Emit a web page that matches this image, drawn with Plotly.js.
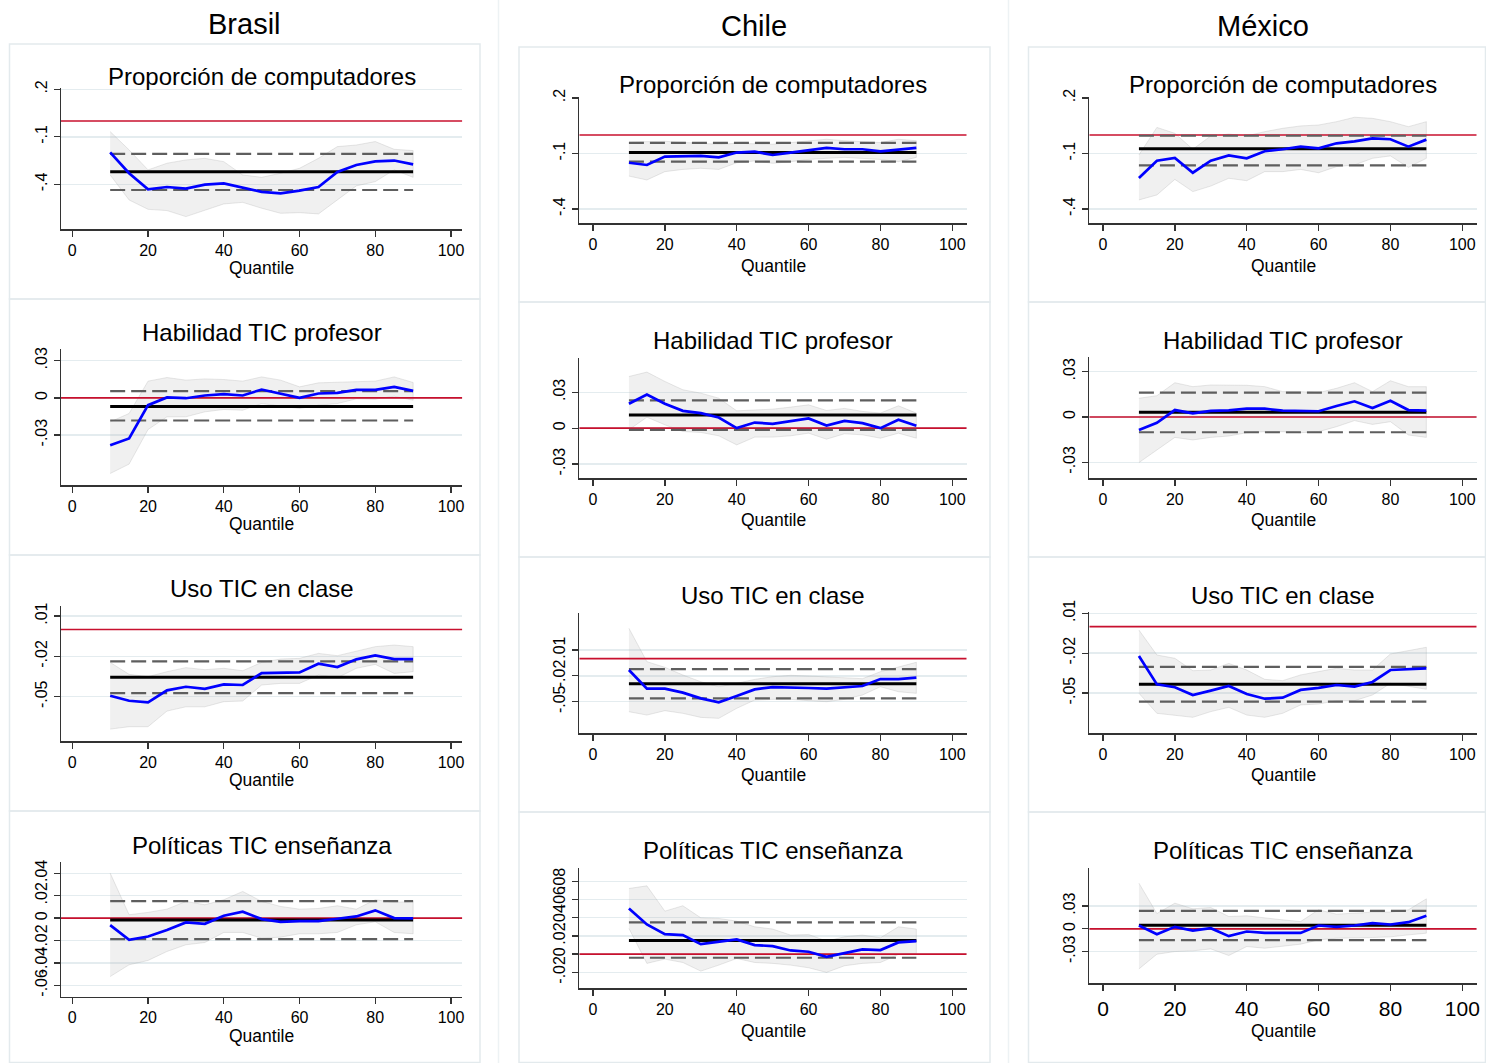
<!DOCTYPE html>
<html><head><meta charset="utf-8">
<script src="https://cdn.plot.ly/plotly-3.0.1.min.js"></script>
<style>html,body{margin:0;padding:0;background:#fff}</style>
</head><body><div id="chart" style="width:1486px;height:1063px"></div>
<script>
// ---------------- DATA ----------------
const quantiles = [10,15,20,25,30,35,40,45,50,55,60,65,70,75,80,85,90];
const countries = ['Brasil','Chile','México'];
const variables = ['Proporción de computadores','Habilidad TIC profesor','Uso TIC en clase','Políticas TIC enseñanza'];
const xTickVals = [0,20,40,60,80,100];
const xAxisLabel = 'Quantile';
const zeroLine = 0;

// y ticks
const prop_ticks = [-0.4,-0.1,0.2];            const prop_labels = ['-.4','-.1','.2'];
const hab_ticks = [-0.03,0,0.03];              const hab_labels = ['-.03','0','.03'];
const uso_ticks = [-0.05,-0.02,0.01];          const uso_labels = ['-.05','-.02','.01'];
const br_pol_ticks = [-0.06,-0.04,-0.02,0,0.02,0.04]; const br_pol_labels = ['-.06','-.04','-.02','0','.02','.04'];
const cl_pol_ticks = [-0.02,0,0.02,0.04,0.06,0.08];   const cl_pol_labels = ['-.02','0','.02','.04','.06','.08'];
const mx_pol_ticks = [-0.03,0,0.03];           const mx_pol_labels = ['-.03','0','.03'];

// OLS arrays: [coefficient, lower CI, upper CI]
// Brasil - Proporción de computadores
const br_prop_qr = [-0.198,-0.330,-0.432,-0.417,-0.427,-0.402,-0.394,-0.419,-0.448,-0.457,-0.440,-0.417,-0.322,-0.278,-0.255,-0.250,-0.274];
const br_prop_hi = [-0.067,-0.183,-0.309,-0.267,-0.246,-0.236,-0.257,-0.341,-0.356,-0.330,-0.299,-0.236,-0.162,-0.152,-0.130,-0.179,-0.187];
const br_prop_lo = [-0.341,-0.499,-0.558,-0.566,-0.604,-0.566,-0.524,-0.514,-0.551,-0.583,-0.579,-0.587,-0.499,-0.410,-0.383,-0.309,-0.356];
const br_prop_ols = [-0.320,-0.436,-0.208];
// Chile - Proporción de computadores
const cl_prop_qr = [-0.150,-0.162,-0.117,-0.115,-0.113,-0.121,-0.095,-0.090,-0.108,-0.095,-0.081,-0.070,-0.077,-0.077,-0.088,-0.081,-0.070];
const cl_prop_hi = [-0.038,-0.036,-0.034,-0.040,-0.045,-0.050,-0.045,-0.048,-0.050,-0.041,-0.032,-0.023,-0.031,-0.036,-0.041,-0.023,-0.031];
const cl_prop_lo = [-0.222,-0.243,-0.198,-0.186,-0.180,-0.186,-0.150,-0.140,-0.153,-0.144,-0.132,-0.126,-0.121,-0.126,-0.132,-0.144,-0.121];
const cl_prop_ols = [-0.095,-0.144,-0.043];
// México - Proporción de computadores
const mx_prop_qr = [-0.232,-0.139,-0.124,-0.204,-0.139,-0.110,-0.126,-0.088,-0.077,-0.063,-0.072,-0.045,-0.034,-0.018,-0.023,-0.063,-0.025];
const mx_prop_hi = [-0.108,0.041,0.009,-0.077,-0.005,0.005,-0.005,0.018,0.036,0.049,0.054,0.072,0.096,0.090,0.072,0.045,0.072];
const mx_prop_lo = [-0.351,-0.324,-0.240,-0.306,-0.276,-0.234,-0.247,-0.198,-0.198,-0.186,-0.204,-0.171,-0.162,-0.126,-0.113,-0.175,-0.126];
const mx_prop_ols = [-0.074,-0.164,-0.004];

// Habilidad TIC profesor
const br_hab_qr = [-0.0382,-0.0328,-0.0059,0.0003,-0.0003,0.0019,0.0030,0.0019,0.0067,0.0035,0.0000,0.0035,0.0040,0.0065,0.0065,0.0089,0.0056];
const br_hab_hi = [-0.0194,-0.0126,0.0135,0.0164,0.0143,0.0153,0.0148,0.0135,0.0169,0.0143,0.0089,0.0121,0.0126,0.0132,0.0135,0.0169,0.0124];
const br_hab_lo = [-0.0611,-0.0535,-0.0256,-0.0153,-0.0153,-0.0113,-0.0094,-0.0100,-0.0046,-0.0067,-0.0086,-0.0059,-0.0046,-0.0008,-0.0011,0.0013,-0.0019];
const br_hab_ols = [-0.0070,-0.0183,0.0054];

const cl_hab_qr = [0.0204,0.0282,0.0204,0.0145,0.0126,0.0089,0.0000,0.0047,0.0036,0.0056,0.0081,0.0022,0.0061,0.0042,0.0000,0.0070,0.0020];
const cl_hab_hi = [0.0432,0.0469,0.0391,0.0321,0.0293,0.0251,0.0145,0.0153,0.0159,0.0176,0.0195,0.0148,0.0165,0.0140,0.0126,0.0187,0.0126];
const cl_hab_lo = [-0.0014,0.0092,0.0028,-0.0028,-0.0036,-0.0064,-0.0140,-0.0075,-0.0075,-0.0064,-0.0042,-0.0092,-0.0047,-0.0056,-0.0084,-0.0042,-0.0084];
const cl_hab_ols = [0.0109,-0.0014,0.0232];

const mx_hab_qr = [-0.0086,-0.0038,0.0046,0.0024,0.0040,0.0044,0.0055,0.0055,0.0042,0.0038,0.0038,0.0073,0.0104,0.0060,0.0108,0.0046,0.0042];
const mx_hab_hi = [0.0124,0.0141,0.0227,0.0201,0.0212,0.0210,0.0210,0.0201,0.0168,0.0168,0.0161,0.0190,0.0227,0.0168,0.0240,0.0201,0.0201];
const mx_hab_lo = [-0.0302,-0.0218,-0.0135,-0.0152,-0.0135,-0.0126,-0.0104,-0.0097,-0.0097,-0.0104,-0.0097,-0.0064,-0.0024,-0.0049,-0.0031,-0.0119,-0.0135];
const mx_hab_ols = [0.0031,-0.0101,0.0161];

// Uso TIC en clase
const br_uso_qr = [-0.0493,-0.0530,-0.0542,-0.0453,-0.0426,-0.0441,-0.0408,-0.0413,-0.0324,-0.0322,-0.0319,-0.0255,-0.0279,-0.0222,-0.0193,-0.0220,-0.0220];
const br_uso_hi = [-0.0245,-0.0334,-0.0351,-0.0314,-0.0284,-0.0299,-0.0289,-0.0307,-0.0245,-0.0220,-0.0215,-0.0178,-0.0195,-0.0160,-0.0128,-0.0116,-0.0128];
const br_uso_lo = [-0.0741,-0.0723,-0.0723,-0.0607,-0.0575,-0.0575,-0.0537,-0.0532,-0.0413,-0.0401,-0.0401,-0.0339,-0.0359,-0.0289,-0.0260,-0.0327,-0.0314];
const br_uso_ols = [-0.0356,-0.0473,-0.0237];

const cl_uso_qr = [-0.0132,-0.0349,-0.0349,-0.0395,-0.0461,-0.0508,-0.0434,-0.0357,-0.0330,-0.0333,-0.0341,-0.0349,-0.0333,-0.0318,-0.0237,-0.0237,-0.0221];
const cl_uso_hi = [0.0352,-0.0035,-0.0101,-0.0190,-0.0268,-0.0326,-0.0287,-0.0241,-0.0210,-0.0194,-0.0202,-0.0210,-0.0217,-0.0233,-0.0152,-0.0101,-0.0043];
const cl_uso_lo = [-0.0616,-0.0655,-0.0604,-0.0635,-0.0682,-0.0693,-0.0577,-0.0481,-0.0473,-0.0473,-0.0488,-0.0500,-0.0473,-0.0422,-0.0326,-0.0384,-0.0403];
const cl_uso_ols = [-0.0291,-0.0461,-0.0121];

const mx_uso_qr = [-0.0221,-0.0435,-0.0457,-0.0515,-0.0482,-0.0447,-0.0507,-0.0543,-0.0535,-0.0477,-0.0462,-0.0440,-0.0452,-0.0417,-0.0327,-0.0319,-0.0314];
const mx_uso_hi = [-0.0026,-0.0214,-0.0239,-0.0332,-0.0327,-0.0277,-0.0327,-0.0397,-0.0407,-0.0364,-0.0339,-0.0314,-0.0327,-0.0327,-0.0206,-0.0181,-0.0156];
const mx_uso_lo = [-0.0502,-0.0653,-0.0666,-0.0683,-0.0640,-0.0608,-0.0666,-0.0683,-0.0653,-0.0590,-0.0583,-0.0558,-0.0558,-0.0515,-0.0427,-0.0447,-0.0472];
const mx_uso_ols = [-0.0435,-0.0565,-0.0304];

// Políticas TIC enseñanza
const br_pol_qr = [-0.0063,-0.0194,-0.0164,-0.0107,-0.0039,-0.0051,0.0021,0.0057,-0.0009,-0.0033,-0.0027,-0.0027,-0.0006,0.0015,0.0069,0.0000,-0.0003];
const br_pol_hi = [0.0402,0.0030,0.0051,0.0080,0.0149,0.0119,0.0164,0.0238,0.0149,0.0104,0.0080,0.0086,0.0110,0.0080,0.0164,0.0140,0.0149];
const br_pol_lo = [-0.0522,-0.0417,-0.0378,-0.0298,-0.0238,-0.0218,-0.0128,-0.0128,-0.0179,-0.0170,-0.0140,-0.0140,-0.0128,-0.0060,-0.0033,-0.0128,-0.0140];
const br_pol_ols = [-0.0018,-0.0188,0.0152];

const cl_pol_qr = [0.0501,0.0326,0.0220,0.0209,0.0110,0.0135,0.0161,0.0099,0.0088,0.0040,0.0026,-0.0029,0.0015,0.0051,0.0044,0.0128,0.0143];
const cl_pol_hi = [0.0721,0.0750,0.0472,0.0531,0.0399,0.0392,0.0362,0.0300,0.0275,0.0209,0.0216,0.0143,0.0190,0.0209,0.0179,0.0300,0.0275];
const cl_pol_lo = [0.0282,-0.0102,-0.0055,-0.0092,-0.0187,-0.0121,-0.0048,-0.0092,-0.0102,-0.0121,-0.0150,-0.0201,-0.0128,-0.0102,-0.0092,-0.0004,0.0007];
const cl_pol_ols = [0.0150,-0.0040,0.0348];

const mx_pol_qr = [0.0044,-0.0070,0.0026,-0.0022,0.0009,-0.0096,-0.0035,-0.0053,-0.0053,-0.0053,0.0044,0.0026,0.0044,0.0074,0.0057,0.0088,0.0171];
const mx_pol_hi = [0.0600,0.0201,0.0337,0.0263,0.0280,0.0162,0.0171,0.0140,0.0118,0.0096,0.0250,0.0193,0.0206,0.0219,0.0219,0.0250,0.0394];
const mx_pol_lo = [-0.0526,-0.0333,-0.0298,-0.0289,-0.0263,-0.0350,-0.0232,-0.0254,-0.0228,-0.0201,-0.0145,-0.0123,-0.0123,-0.0114,-0.0105,-0.0079,-0.0057];
const mx_pol_ols = [0.0048,-0.0149,0.0237];

// ---------------- PANELS (row-major) ----------------
const panels = [
  {qr:br_prop_qr,hi:br_prop_hi,lo:br_prop_lo,ols:br_prop_ols,tv:prop_ticks,tt:prop_labels,title:variables[0]},
  {qr:cl_prop_qr,hi:cl_prop_hi,lo:cl_prop_lo,ols:cl_prop_ols,tv:prop_ticks,tt:prop_labels,title:variables[0]},
  {qr:mx_prop_qr,hi:mx_prop_hi,lo:mx_prop_lo,ols:mx_prop_ols,tv:prop_ticks,tt:prop_labels,title:variables[0]},
  {qr:br_hab_qr,hi:br_hab_hi,lo:br_hab_lo,ols:br_hab_ols,tv:hab_ticks,tt:hab_labels,title:variables[1]},
  {qr:cl_hab_qr,hi:cl_hab_hi,lo:cl_hab_lo,ols:cl_hab_ols,tv:hab_ticks,tt:hab_labels,title:variables[1]},
  {qr:mx_hab_qr,hi:mx_hab_hi,lo:mx_hab_lo,ols:mx_hab_ols,tv:hab_ticks,tt:hab_labels,title:variables[1]},
  {qr:br_uso_qr,hi:br_uso_hi,lo:br_uso_lo,ols:br_uso_ols,tv:uso_ticks,tt:uso_labels,title:variables[2]},
  {qr:cl_uso_qr,hi:cl_uso_hi,lo:cl_uso_lo,ols:cl_uso_ols,tv:uso_ticks,tt:uso_labels,title:variables[2]},
  {qr:mx_uso_qr,hi:mx_uso_hi,lo:mx_uso_lo,ols:mx_uso_ols,tv:uso_ticks,tt:uso_labels,title:variables[2]},
  {qr:br_pol_qr,hi:br_pol_hi,lo:br_pol_lo,ols:br_pol_ols,tv:br_pol_ticks,tt:br_pol_labels,title:variables[3]},
  {qr:cl_pol_qr,hi:cl_pol_hi,lo:cl_pol_lo,ols:cl_pol_ols,tv:cl_pol_ticks,tt:cl_pol_labels,title:variables[3]},
  {qr:mx_pol_qr,hi:mx_pol_hi,lo:mx_pol_lo,ols:mx_pol_ols,tv:mx_pol_ticks,tt:mx_pol_labels,title:variables[3]}
];

// ---------------- LAYOUT GEOMETRY (pixels) ----------------
const W = 1486, H = 1063;
const colX = [
  {L:61, R:462.3, X0:72.3, X100:451},
  {L:579.3, R:966.7, X0:593, X100:952.3},
  {L:1089.3, R:1476.7, X0:1103, X100:1462.3}
];
const rowGeom = [
  {T:88, B:229.3, a:[0.2,89.3], b:[-0.4,184.3], ty:77, qy:268},
  {T:97, B:223.3, a:[0.2,98], b:[-0.4,209], ty:85, qy:265.5},
  {T:97, B:223.3, a:[0.2,98], b:[-0.4,209], ty:85, qy:265.5},
  {T:349.3, B:485, a:[0.03,360.7], b:[-0.03,435], ty:332, qy:524},
  {T:358.3, B:478.3, a:[0.03,392.3], b:[-0.03,464], ty:340, qy:520},
  {T:357.3, B:478.3, a:[0.03,371.7], b:[-0.03,462.3], ty:340, qy:520},
  {T:605.7, B:741, a:[0.01,616], b:[-0.05,696.7], ty:588, qy:780},
  {T:612.7, B:733.3, a:[0.01,650], b:[-0.05,701.7], ty:595, qy:775},
  {T:612, B:733.3, a:[0.01,613.3], b:[-0.05,693], ty:595, qy:775},
  {T:861.7, B:996.7, a:[0.04,873.3], b:[-0.06,985.3], ty:845, qy:1036},
  {T:867.7, B:988.3, a:[0.08,881.3], b:[-0.02,972.3], ty:850, qy:1031},
  {T:867.7, B:983.3, a:[0.03,906], b:[-0.03,951.7], ty:850, qy:1031}
];

const FONT = 'Liberation Sans, Arial, Helvetica, sans-serif';
const AXC = '#333333';
const GRID = '#e4ecef';
const px2x = p => p / W;
const px2y = p => 1 - p / H;

const traces = [];
const layout = {
  width: W, height: H, margin:{l:0,r:0,t:0,b:0},
  paper_bgcolor:'#ffffff', plot_bgcolor:'rgba(0,0,0,0)',
  showlegend:false, font:{family:FONT, color:'#000'},
  shapes:[], annotations:[]
};

// panel frames (drawn first, below everything)
const BOX = '#e3eaed';
const colBoxes = [[9.5,480],[519,990],[1028.5,1485.5]];
const rowLines = [[44,299,555,811,1062.5],[47,302,557,812,1062.5],[47,302,557,812,1062.5]];
colBoxes.forEach((cb, k) => {
  for (let r = 0; r < 4; r++) {
    layout.shapes.push({type:'rect', xref:'paper', yref:'paper', layer:'below',
      x0:px2x(cb[0]), x1:px2x(cb[1]), y0:px2y(rowLines[k][r+1]), y1:px2y(rowLines[k][r]),
      line:{color:BOX, width:1.5}});
  }
});
[498.5, 1008.5].forEach(xp => layout.shapes.push({type:'line', xref:'paper', yref:'paper', layer:'below',
  x0:px2x(xp), x1:px2x(xp), y0:0, y1:1, line:{color:'#edf2f4', width:1.5}}));

panels.forEach((p, i) => {
  const n = i + 1;
  const cx = colX[i % 3];
  const g = rowGeom[i];
  const xs = (cx.X100 - cx.X0) / 100;
  const xr = [(cx.L - cx.X0) / xs, (cx.R - cx.X0) / xs];
  const vAt = pix => g.a[0] + (pix - g.a[1]) * (g.b[0] - g.a[0]) / (g.b[1] - g.a[1]);
  const yr = [vAt(g.B), vAt(g.T)];
  const xa = 'x' + n, ya = 'y' + n;
  const xTickSize = (i === 11) ? 21 : 16;

  layout['xaxis' + n] = {
    domain:[px2x(cx.L), px2x(cx.R)], range:xr, anchor:ya,
    tickmode:'array', tickvals:xTickVals, ticktext:xTickVals.map(String),
    showgrid:false, zeroline:false, showline:true, linecolor:AXC, linewidth:1.5,
    ticks:'outside', ticklen:6, tickwidth:1.3, tickcolor:AXC, ticklabelstandoff:0,
    tickfont:{size:xTickSize, family:FONT, color:'#000'}, fixedrange:true
  };
  layout['yaxis' + n] = {
    domain:[px2y(g.B), px2y(g.T)], range:yr, anchor:xa,
    tickmode:'array', tickvals:p.tv, ticktext:p.tt, tickangle:-90,
    showgrid:true, gridcolor:GRID, gridwidth:1.5, zeroline:false,
    showline:true, linecolor:AXC, linewidth:1.5,
    ticks:'outside', ticklen:6, tickwidth:1.3, tickcolor:AXC, ticklabelstandoff:0,
    tickfont:{size:16, family:FONT, color:'#000'}, fixedrange:true
  };

  const q0 = quantiles[0], q1 = quantiles[quantiles.length - 1];
  // confidence band of quantile regression
  traces.push({
    type:'scatter', mode:'lines', xaxis:xa, yaxis:ya, hoverinfo:'skip',
    x: quantiles.concat(quantiles.slice().reverse()),
    y: p.hi.concat(p.lo.slice().reverse()),
    fill:'toself', fillcolor:'rgba(180,180,180,0.2)',
    line:{color:'rgba(165,165,165,0.25)', width:1}
  });
  // zero reference line across the full axis range
  traces.push({
    type:'scatter', mode:'lines', xaxis:xa, yaxis:ya, hoverinfo:'skip',
    x:xr, y:[zeroLine, zeroLine], line:{color:'#c8102e', width:1.6}
  });
  // OLS CI (dashed)
  [p.ols[1], p.ols[2]].forEach(v => traces.push({
    type:'scatter', mode:'lines', xaxis:xa, yaxis:ya, hoverinfo:'skip',
    x:[q0, q1], y:[v, v], line:{color:'#5e5e5e', width:2.2, dash:'15px,6px'}
  }));
  // OLS coefficient
  traces.push({
    type:'scatter', mode:'lines', xaxis:xa, yaxis:ya, hoverinfo:'skip',
    x:[q0, q1], y:[p.ols[0], p.ols[0]], line:{color:'#000000', width:3}
  });
  // quantile regression coefficients
  traces.push({
    type:'scatter', mode:'lines', xaxis:xa, yaxis:ya, name:p.title,
    x:quantiles, y:p.qr, line:{color:'#0000ff', width:2.7}
  });
  // panel title and x label
  const midx = px2x((cx.L + cx.R) / 2);
  layout.annotations.push({
    text:p.title, xref:'paper', yref:'paper', x:midx, y:px2y(g.ty),
    xanchor:'center', yanchor:'middle', showarrow:false,
    font:{size:24, family:FONT, color:'#000'}
  });
  layout.annotations.push({
    text:xAxisLabel, xref:'paper', yref:'paper', x:midx, y:px2y(g.qy),
    xanchor:'center', yanchor:'middle', showarrow:false,
    font:{size:17.5, family:FONT, color:'#000'}
  });
});

// column titles
const colTitlePos = [[244,24],[754,26],[1263,26]];
countries.forEach((c, k) => {
  layout.annotations.push({
    text:c, xref:'paper', yref:'paper', x:px2x(colTitlePos[k][0]), y:px2y(colTitlePos[k][1]),
    xanchor:'center', yanchor:'middle', showarrow:false,
    font:{size:29, family:FONT, color:'#000'}
  });
});

Plotly.newPlot('chart', traces, layout, {displayModeBar:false, staticPlot:true});
</script>
</body></html>
